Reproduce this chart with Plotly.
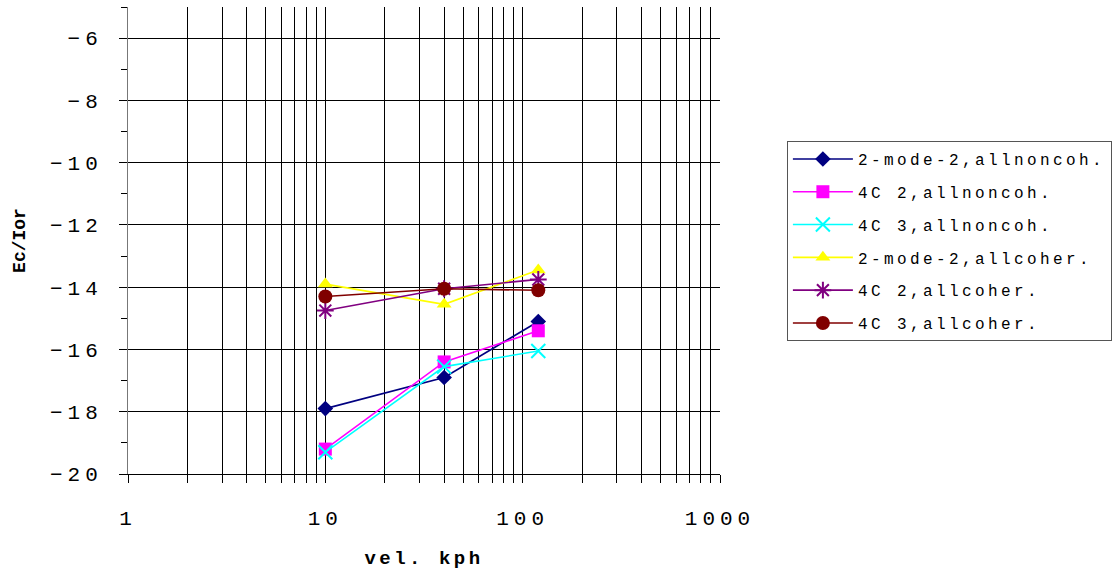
import plotly.graph_objects as go

velocity = [10, 40, 120]
names = ["2-mode-2,allnoncoh.", "4C 2,allnoncoh.", "4C 3,allnoncoh.",
         "2-mode-2,allcoher.", "4C 2,allcoher.", "4C 3,allcoher."]
s1 = [-17.9, -16.9, -15.1]
s2 = [-19.2, -16.4, -15.4]
s3 = [-19.3, -16.55, -16.05]
s4 = [-13.9, -14.55, -13.45]
s5 = [-14.75, -14.05, -13.75]
s6 = [-14.3, -14.05, -14.1]
series = [s1, s2, s3, s4, s5, s6]
colors = ["#000080", "#FF00FF", "#00FFFF", "#FFFF00", "#800080", "#800000"]
symbols = ["diamond", "square", "x-thin-open", "triangle-up", "asterisk-open", "circle"]
sizes = [12, 13, 14, 13, 14, 14]

x_tickvals = [m * 10 ** d for d in range(3) for m in range(1, 10)] + [1000]
y_ticks = [-20, -18, -16, -14, -12, -10, -8, -6]


def spaced(t, px):
    return f'<span style="letter-spacing:{px}px">{t}</span>'


x_ticktext = [spaced(str(v), 5) if v in (1, 10, 100, 1000) else "" for v in x_tickvals]
y_ticktext = [spaced(str(v).replace("-", "\u2212"), 5) for v in y_ticks]

FONT = "Liberation Mono, Courier New, monospace"

fig = go.Figure()
for i, (nm, ys) in enumerate(zip(names, series)):
    mk = dict(color=colors[i], size=sizes[i], symbol=symbols[i])
    if "open" in symbols[i]:
        mk["line"] = dict(color=colors[i], width=2)
    else:
        mk["line"] = dict(width=0)
    fig.add_trace(go.Scatter(
        x=velocity, y=ys, name=spaced(nm, 3.4), mode="lines+markers",
        line=dict(color=colors[i], width=1.6), marker=mk,
        legendgroup=f"g{i}",
    ))

fig.update_layout(
    width=1112, height=571,
    margin=dict(l=128, r=392, t=7, b=97, autoexpand=False),
    paper_bgcolor="white", plot_bgcolor="white",
    font=dict(family=FONT, color="black"),
    showlegend=True,
    legend=dict(
        x=1.113, y=0.713, xanchor="left", yanchor="top",
        bordercolor="#555555", borderwidth=1, bgcolor="white",
        font=dict(family=FONT, size=16, color="black"),
        tracegroupgap=9, itemwidth=60,
    ),
    xaxis=dict(
        type="log", range=[0, 3], automargin=False,
        tickvals=x_tickvals, ticktext=x_ticktext,
        showgrid=True, gridcolor="black", gridwidth=1,
        ticks="outside", ticklen=8, tickcolor="black",
        showline=True, linecolor="black", linewidth=1,
        tickfont=dict(family=FONT, size=21),
        ticklabelstandoff=17,
        zeroline=False,
        title=dict(text=spaced("<b>vel. kph</b>", 3.5), font=dict(family=FONT, size=19), standoff=20),
    ),
    yaxis=dict(
        range=[-20, -5], automargin=False,
        tickvals=y_ticks, ticktext=y_ticktext,
        showgrid=True, gridcolor="black", gridwidth=1,
        ticks="outside", ticklen=8, tickcolor="black",
        minor=dict(dtick=1, ticks="outside", ticklen=6, tickcolor="black", showgrid=False),
        showline=True, linecolor="#777777", linewidth=1,
        tickfont=dict(family=FONT, size=21),
        ticklabelstandoff=12,
        zeroline=False,
        title=dict(text="<b>Ec/Ior</b>", font=dict(family=FONT, size=18), standoff=19),
    ),
)

fig.write_html("out.html")
